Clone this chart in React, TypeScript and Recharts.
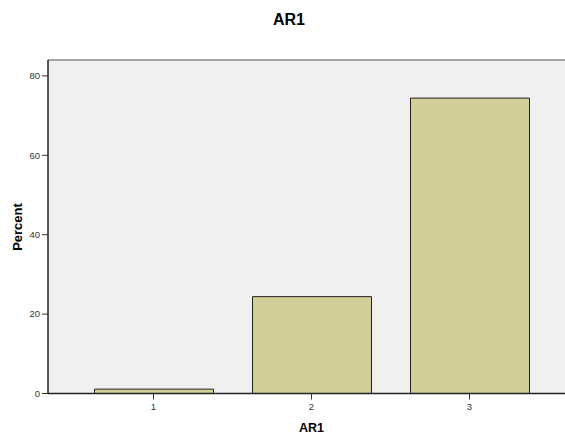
import { BarChart, Bar, XAxis, YAxis, CartesianGrid, ReferenceLine } from 'recharts'

const CATEGORIES = ['1', '2', '3']
const PERCENTS = [1.1, 24.4, 74.4]
const Y_TICKS = [0, 20, 40, 60, 80]

const data = CATEGORIES.map((c, i) => ({ cat: c, pct: PERCENTS[i] }))

const FONT = '"Liberation Sans", Arial, sans-serif'

export default function App() {
  return (
    <div style={{ position: 'absolute', left: 0, top: 0, width: 565, height: 434, overflow: 'hidden', background: '#fff', fontFamily: FONT }}>
      <div style={{ position: 'absolute', left: 0, top: 11, width: 578, textAlign: 'center', fontWeight: 'bold', fontSize: 16, color: '#000' }}>
        AR1
      </div>
      <BarChart
        width={585}
        height={434}
        data={data}
        margin={{ top: 60, right: 10, bottom: 10.5, left: 8 }}
      >
        <CartesianGrid fill="#f0f0f0" horizontal={false} vertical={false} stroke="none" />
        <XAxis
          dataKey="cat"
          height={30}
          padding={{ left: 26.5, right: 26.5 }}
          axisLine={{ stroke: '#222', strokeWidth: 1.5 }}
          tickLine={{ stroke: '#333' }}
          tickSize={6}
          tickMargin={4}
          tick={{ fontSize: 9.5, fill: '#333', fontFamily: FONT }}
          label={{ value: 'AR1', position: 'bottom', offset: 0, fontSize: 12.5, fontWeight: 'bold', fill: '#000', fontFamily: FONT }}
        />
        <YAxis
          width={40}
          domain={[0, 84]}
          ticks={Y_TICKS}
          allowDataOverflow
          axisLine={{ stroke: '#222', strokeWidth: 1.5 }}
          tickLine={{ stroke: '#333' }}
          tickSize={6}
          tickMargin={2}
          tick={{ fontSize: 9.5, fill: '#333', fontFamily: FONT }}
          label={{
            content: () => (
              <text
                x={21.5}
                y={227}
                transform="rotate(-90 21.5 227)"
                textAnchor="middle"
                fontSize={13}
                fontWeight="bold"
                fill="#000"
                fontFamily={FONT}
              >
                Percent
              </text>
            ),
          }}
        />
        <ReferenceLine y={84} stroke="#888" strokeWidth={1.5} />
        <Bar dataKey="pct" fill="#d3cf98" stroke="#222" strokeWidth={1} barSize={119} isAnimationActive={false} />
      </BarChart>
    </div>
  )
}
